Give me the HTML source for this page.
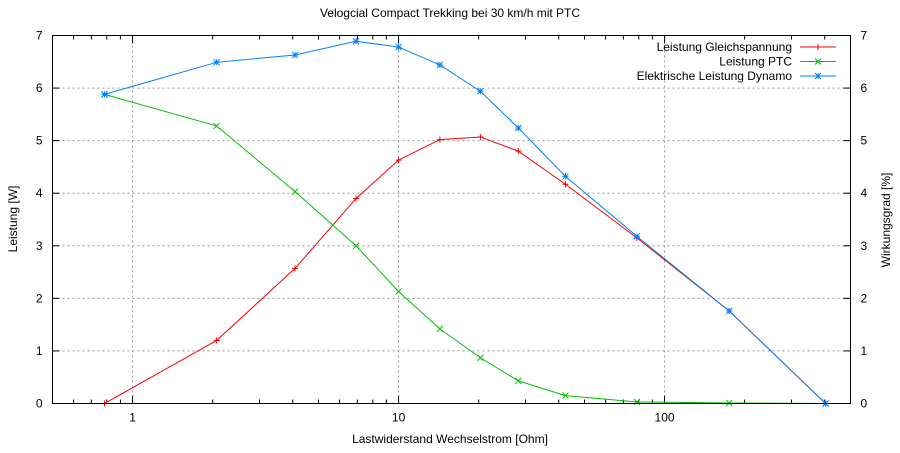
<!DOCTYPE html>
<html><head><meta charset="utf-8"><style>
body{margin:0;background:#fff;}
svg{display:block;font-family:"Liberation Sans",sans-serif;font-size:12px;}
</style></head><body>
<svg id="chart" width="900" height="453">
<text x="450" y="17" text-anchor="middle">Velogcial Compact Trekking bei 30 km/h mit PTC</text>
<text x="450" y="443" text-anchor="middle">Lastwiderstand Wechselstrom [Ohm]</text>
<text transform="translate(17,219) rotate(-90)" text-anchor="middle">Leistung [W]</text>
<text transform="translate(890,220) rotate(-90)" text-anchor="middle">Wirkungsgrad [%]</text>
<g id="grid"></g><g id="ticks"></g><g id="series"></g>
<rect x="52.5" y="35.5" width="798" height="368" fill="none" stroke="#000"/>
<g id="legend"></g>
</svg>
<script>
const xVals=[0.784,2.07,4.08,6.92,10,14.3,20.3,28.2,42.4,78.7,175,403];
const redVals=[0,1.2,2.57,3.9,4.63,5.02,5.07,4.8,4.17,3.15,1.76,0];
const greenVals=[5.88,5.28,4.03,3.0,2.13,1.42,0.87,0.43,0.15,0.03,0.01,0];
const blueVals=[5.88,6.49,6.63,6.89,6.78,6.44,5.94,5.24,4.32,3.18,1.76,0];
const yTicks=[0,1,2,3,4,5,6,7];
const xTickLabels=[1,10,100];
const seriesNames=["Leistung Gleichspannung","Leistung PTC","Elektrische Leistung Dynamo"];
const L=52.5,R=850.5,T=35.5,B=403.5;
const xs=v=>L+(Math.log10(v)-Math.log10(0.5))/(Math.log10(500)-Math.log10(0.5))*(R-L);
const ys=v=>B-v/7*(B-T);
const NS="http://www.w3.org/2000/svg";
function mk(tag,attrs,parent){const e=document.createElementNS(NS,tag);for(const k in attrs)e.setAttribute(k,attrs[k]);parent.appendChild(e);return e;}
const grid=document.getElementById('grid'),ticks=document.getElementById('ticks'),ser=document.getElementById('series'),leg=document.getElementById('legend');
yTicks.forEach(v=>{const y=ys(v);
 if(v>0&&v<7){const g=mk('line',{x1:L,x2:R,y1:y,y2:y,stroke:'#999','stroke-dasharray':'2,3'},grid);
 
 }
 mk('line',{x1:L,x2:L+7,y1:y,y2:y,stroke:'#000'},ticks);mk('line',{x1:R-7,x2:R,y1:y,y2:y,stroke:'#000'},ticks);
 const t=mk('text',{x:L-10,y:y+4,'text-anchor':'end'},ticks);t.textContent=v;
 
 
 const t2=mk('text',{x:R+10,y:y+4},ticks);t2.textContent=v;
 
 
});
xTickLabels.forEach(v=>{const x=xs(v);
 const g=mk('line',{x1:x,x2:x,y1:T,y2:B,stroke:'#999','stroke-dasharray':'2,3'},grid);
 
 
 mk('line',{x1:x,x2:x,y1:B-8,y2:B,stroke:'#000'},ticks);mk('line',{x1:x,x2:x,y1:T,y2:T+8,stroke:'#000'},ticks);
 const t=mk('text',{x:x,y:B+18,'text-anchor':'middle'},ticks);t.textContent=v;
 
 
});
[0.1,1,10,100].forEach(d=>{for(let m=2;m<=9;m++){const v=d*m;if(v<0.5||v>500)continue;const x=xs(v);
 mk('line',{x1:x,x2:x,y1:B-4,y2:B,stroke:'#000'},ticks);mk('line',{x1:x,x2:x,y1:T,y2:T+4,stroke:'#000'},ticks);}});
function marker(x,y,type,c,p){
 if(type==='plus'){mk('path',{d:`M${x-3},${y}h6M${x},${y-3}v6`,stroke:c,'stroke-width':1},p);}
 else if(type==='x'){mk('path',{d:`M${x-3},${y-3}l6,6M${x-3},${y+3}l6,-6`,stroke:c},p);}
 else {mk('path',{d:`M${x-3},${y}h6M${x},${y-3}v6M${x-3},${y-3}l6,6M${x-3},${y+3}l6,-6`,stroke:c},p);}
}
const defs=[[redVals,'#ff0000','plus','series-gleichspannung'],[greenVals,'#00c000','x','series-ptc'],[blueVals,'#0080ff','star','series-dynamo']];
defs.forEach(([vals,c,m,name],i)=>{
 const g=mk('g',{},ser);
 
 
 mk('polyline',{points:vals.map((v,j)=>xs(xVals[j])+','+ys(v)).join(' '),fill:'none',stroke:c,'stroke-width':1},g);
 vals.forEach((v,j)=>marker(xs(xVals[j]),ys(v),m,c,g));
 const ly=47+i*14.5;
 const lg=mk('g',{},leg);
 
 
 const t=mk('text',{x:792,y:ly+4,'text-anchor':'end'},lg);t.textContent=seriesNames[i];
 mk('line',{x1:800,x2:836,y1:ly,y2:ly,stroke:c},lg);marker(818,ly,m,c,lg);
});
</script>
</body></html>
